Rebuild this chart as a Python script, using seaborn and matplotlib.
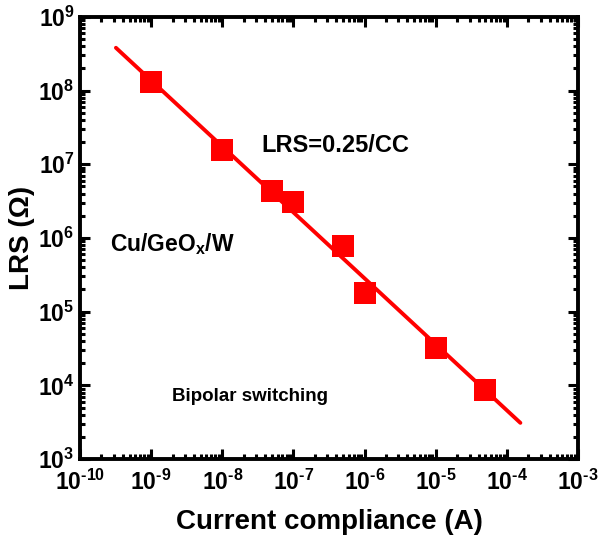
import numpy as np
import pandas as pd
import seaborn as sns
import matplotlib.pyplot as plt
from matplotlib.ticker import LogLocator, NullFormatter

# datos
cc = [1e-9, 1e-8, 5e-8, 1e-7, 5e-7, 1e-6, 1e-5, 5e-5]
lrs = [1.31e8, 1.57e7, 4.3e6, 3.1e6, 7.8e5, 1.8e5, 3.2e4, 8.7e3]

# recta de ajuste (extremos)
fit_cc = [3.2e-10, 1.55e-4]
fit_lrs = [3.8e8, 3.1e3]

xticks = [1e-10, 1e-9, 1e-8, 1e-7, 1e-6, 1e-5, 1e-4, 1e-3]
xticklabels = ['-10', '-9', '-8', '-7', '-6', '-5', '-4', '-3']
yticks = [1e3, 1e4, 1e5, 1e6, 1e7, 1e8, 1e9]
yticklabels = ['3', '4', '5', '6', '7', '8', '9']

datos = pd.DataFrame({'CC': cc, 'LRS': lrs})
ajuste = pd.DataFrame({'CC': fit_cc, 'LRS': fit_lrs})

sns.set_style('ticks')
plt.rcParams['font.family'] = ['Liberation Sans', 'DejaVu Sans']
plt.rcParams['text.color'] = 'black'
plt.rcParams['axes.labelcolor'] = 'black'
plt.rcParams['mathtext.fontset'] = 'custom'
plt.rcParams['mathtext.rm'] = 'Liberation Sans:bold'
plt.rcParams['mathtext.bf'] = 'Liberation Sans:bold'
plt.rcParams['mathtext.it'] = 'Liberation Sans:bold'


def etiqueta(e):
    # guion corto en el exponente, como en el original
    return r'$\mathbf{10^{%s}}$' % e.replace('-', '\u2010')


fig = plt.figure(figsize=(6, 5.42), dpi=100)
ax = fig.add_axes([0.1333, 0.153, 0.83, 0.816])

sns.lineplot(data=ajuste, x='CC', y='LRS', color='#ff0000', lw=2.8, ax=ax, zorder=2)
sns.scatterplot(data=datos, x='CC', y='LRS', marker='s', s=270, color='#ff0000',
                linewidth=0, ax=ax, zorder=3)

ax.set_xscale('log')
ax.set_yscale('log')
ax.set_xlim(1e-10, 1e-3)
ax.set_ylim(1e3, 1e9)

ax.set_xticks(xticks)
ax.set_xticklabels([etiqueta(t) for t in xticklabels])
ax.set_yticks(yticks)
ax.set_yticklabels([etiqueta(t) for t in yticklabels])
ax.xaxis.set_minor_locator(LogLocator(base=10, subs=np.arange(2, 10), numticks=20))
ax.yaxis.set_minor_locator(LogLocator(base=10, subs=np.arange(2, 10), numticks=20))
ax.xaxis.set_minor_formatter(NullFormatter())
ax.yaxis.set_minor_formatter(NullFormatter())

ax.tick_params(which='both', direction='in', top=True, right=True, width=2.2,
               colors='black', labelcolor='black')
ax.tick_params(which='major', length=7.5, labelsize=16.5)
ax.tick_params(axis='x', which='major', pad=8)
ax.tick_params(axis='y', which='major', pad=4)
ax.tick_params(which='minor', length=3.8)
for s in ax.spines.values():
    s.set_linewidth(2.8)
    s.set_color('black')

ax.set_xlabel('Current compliance (A)', fontsize=20, fontweight='bold', labelpad=10)
ax.set_ylabel('LRS (Ω)', fontsize=20, fontweight='bold', labelpad=2)

ax.text(3.6e-8, 1.8e7, 'LRS=0.25/CC', fontsize=17, fontweight='bold', va='center')
ax.text(2.6e-10, 8.3e5, r'Cu/GeO$_\mathbf{x}$/W', fontsize=16.5, fontweight='bold', va='center')
ax.text(1.94e-9, 7e3, 'Bipolar switching', fontsize=13.5, fontweight='bold', va='center')

fig.savefig('out.png', dpi=100)
